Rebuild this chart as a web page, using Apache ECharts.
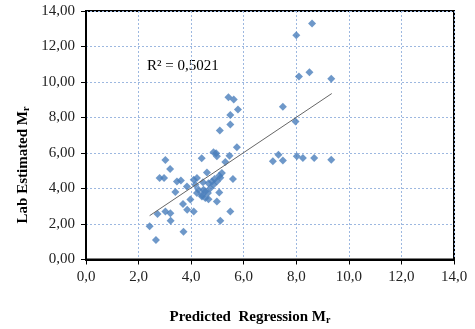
<!DOCTYPE html>
<html><head><meta charset="utf-8">
<script src="https://cdn.jsdelivr.net/npm/echarts@6/dist/echarts.min.js"></script>
<style>html,body{margin:0;padding:0;background:#fff}#c{width:475px;height:329px}</style>
</head><body><div id="c"></div>
<script>
// Predicted regression Mr (x) vs lab-estimated Mr (y)
const predicted = [2.42,2.66,2.72,2.80,2.97,3.02,3.20,3.02,3.21,3.22,3.40,3.46,3.61,3.69,3.71,3.85,3.84,3.97,4.10,4.10,
  4.22,4.40,4.22,4.16,4.28,4.41,4.54,4.64,4.66,4.73,4.85,4.98,4.66,4.79,4.89,5.07,4.60,5.17,5.59,5.07,
  4.98,5.49,5.11,4.85,4.95,4.98,5.30,5.46,5.74,5.09,5.49,5.49,5.78,5.42,5.62,7.11,7.32,7.49,7.49,7.97,
  8.02,8.25,8.68,9.33,8.00,8.60,8.10,8.50,9.33,4.41,4.54,4.47,4.45,5.11];
const labEstimated = [1.88,1.10,2.56,4.59,4.59,5.60,5.10,2.70,2.60,2.19,3.80,4.40,4.45,3.13,1.57,2.80,4.11,3.38,2.70,4.49,
  4.59,5.70,3.74,4.21,3.93,3.64,3.83,3.74,3.40,4.02,4.21,4.40,4.30,4.40,4.53,4.72,4.90,4.87,4.53,3.78,
  3.27,2.70,2.19,6.04,5.98,5.81,5.50,5.85,6.33,7.27,7.60,8.14,8.45,9.14,9.02,5.53,5.90,5.58,8.60,7.78,
  5.81,5.72,5.72,5.62,12.64,13.29,10.31,10.55,10.18,3.55,3.46,3.93,4.35,4.60];
const trendX = [2.42, 9.35];
const trendY = [2.47, 9.35];
const xTicks = [0,2,4,6,8,10,12,14];
const yTicks = [0,2,4,6,8,10,12,14];
const r2Label = 'R² = 0,5021';

const pts = predicted.map((x,i)=>[x, labEstimated[i]]);
const trend = trendX.map((x,i)=>[x, trendY[i]]);
const serif = "'Liberation Serif','Times New Roman',serif";
const chart = echarts.init(document.getElementById('c'), null, {renderer:'canvas'});
const gridLine = {show:true, lineStyle:{color:'#9db8e0', type:[2,2], width:1}};
chart.setOption({
  animation:false,
  grid:{left:86, right:21, top:11, bottom:69.5, show:true, borderColor:'#000', borderWidth:2, containLabel:false},
  xAxis:{type:'value', min:xTicks[0], max:xTicks[xTicks.length-1], interval:2,
    axisLine:{show:true, lineStyle:{color:'#000', width:2}},
    axisTick:{show:true, inside:false, length:5, lineStyle:{color:'#000', width:1}},
    splitLine:gridLine,
    axisLabel:{fontFamily:serif, fontSize:15, color:'#222', margin:10, formatter:v=>v.toFixed(1).replace('.',',')}},
  yAxis:{type:'value', min:yTicks[0], max:yTicks[yTicks.length-1], interval:2,
    axisLine:{show:true, lineStyle:{color:'#000', width:2}},
    axisTick:{show:true, inside:false, length:5, lineStyle:{color:'#000', width:1}},
    splitLine:gridLine,
    axisLabel:{fontFamily:serif, fontSize:15, color:'#222', margin:11, formatter:v=>v.toFixed(2).replace('.',',')}},
  series:[
    {type:'line', data:trend, symbol:'none', lineStyle:{color:'#666', width:1}, z:3},
    {type:'scatter', data:pts, symbol:'diamond', symbolSize:8, itemStyle:{color:'#4A7EBB'}, z:2}
  ],
  graphic:[
    {type:'text', x:147, y:66, style:{text:r2Label, font:"15px "+serif, fill:'#000', textVerticalAlign:'middle'}},
    {type:'text', x:250, y:317, style:{text:'{a|Predicted  Regression M}{s|r}', textAlign:'center', textVerticalAlign:'middle',
      rich:{a:{fontFamily:serif, fontWeight:'bold', fontSize:15, fill:'#000', color:'#000'}, s:{fontFamily:serif, fontWeight:'bold', fontSize:10, color:'#000', padding:[7,0,0,0]}}}},
    {type:'text', x:23, y:165, rotation:Math.PI/2, style:{text:'{a|Lab Estimated M}{s|r}', textAlign:'center', textVerticalAlign:'middle',
      rich:{a:{fontFamily:serif, fontWeight:'bold', fontSize:15, color:'#000'}, s:{fontFamily:serif, fontWeight:'bold', fontSize:10, color:'#000', padding:[7,0,0,0]}}}}
  ]
});
</script></body></html>
